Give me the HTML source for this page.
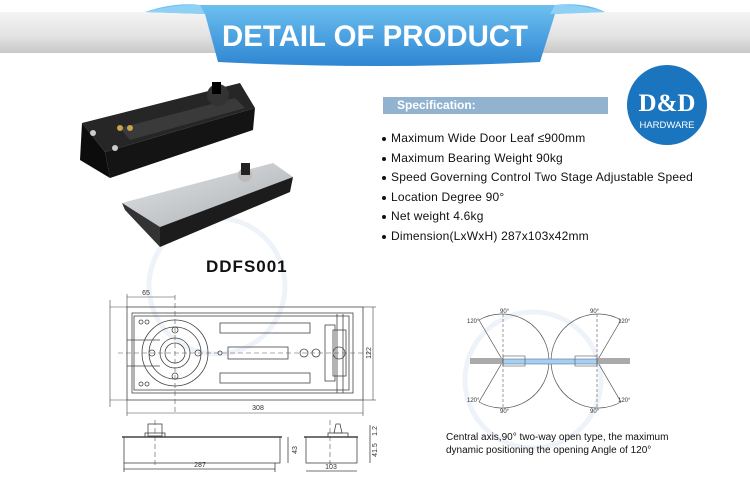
<!DOCTYPE html>
<html><head><meta charset="utf-8"><style>
html,body{margin:0;padding:0;background:#fff;}
body{width:750px;height:500px;position:relative;overflow:hidden;font-family:"Liberation Sans",sans-serif;}
.spec{position:absolute;left:383px;top:97px;width:225px;height:17px;background:#92b3cf;color:#fff;font-weight:bold;font-size:12px;line-height:17px;padding-left:14px;box-sizing:border-box;}
.li{position:absolute;left:382px;font-size:12px;color:#111;letter-spacing:0.2px;}
.li:before{content:"";display:inline-block;width:4px;height:4px;border-radius:50%;background:#111;margin-right:5px;vertical-align:middle;}
</style></head><body>
<svg width="750" height="500" style="position:absolute;left:0;top:0" font-family="Liberation Sans, sans-serif">
<defs>
<linearGradient id="gb" x1="0" y1="0" x2="0" y2="1"><stop offset="0" stop-color="#f4f4f4"/><stop offset="0.6" stop-color="#e2e2e2"/><stop offset="1" stop-color="#c8c8c8"/></linearGradient>
<linearGradient id="bl" x1="0" y1="0" x2="0" y2="1"><stop offset="0" stop-color="#6cc0f0"/><stop offset="1" stop-color="#2f86d2"/></linearGradient>
<linearGradient id="sil" x1="0" y1="0" x2="1" y2="1"><stop offset="0" stop-color="#e4e6e8"/><stop offset="1" stop-color="#a9adb1"/></linearGradient>
</defs>
<rect x="0" y="12" width="750" height="41" fill="url(#gb)"/>
<path d="M145 12 Q175 2 200 5 L555 5 Q585 2 605 12 L555 14 L540 62 Q375 70 218 62 L205 14 Z" fill="url(#bl)"/>
<path d="M145 12 Q175 4 200 5 L205 14 Z M605 12 Q580 4 555 5 L550 14Z" fill="#8fd0f5"/>
<text x="222" y="46" textLength="306" lengthAdjust="spacingAndGlyphs" font-size="30" font-weight="bold" fill="#fff">DETAIL OF PRODUCT</text>
<!-- watermark -->
<circle cx="217" cy="286" r="68" fill="none" stroke="#eef3f9" stroke-width="5"/>
<circle cx="533" cy="380" r="68" fill="none" stroke="#eef3f9" stroke-width="5"/>
<!-- black box -->
<polygon points="82,123 240,83 255,108 105,152" fill="#262626"/>
<polygon points="105,152 255,108 253,130 110,178" fill="#141414"/>
<polygon points="82,123 105,152 110,178 80,160" fill="#0c0c0c"/>
<polygon points="120,128 235,98 245,108 130,140" fill="#3a3a3a"/>
<circle cx="218" cy="95" r="11" fill="#333"/><rect x="212" y="82" width="9" height="12" fill="#000"/>
<circle cx="120" cy="128" r="3" fill="#c9a24a"/><circle cx="130" cy="128" r="3" fill="#c9a24a"/>
<circle cx="93" cy="133" r="3" fill="#ccc"/><circle cx="115" cy="148" r="3" fill="#ccc"/>
<!-- silver -->
<polygon points="122,203 273,163 293,177 160,227" fill="url(#sil)"/>
<polygon points="160,227 293,177 290,192 160,247" fill="#1c1c1c"/>
<polygon points="122,203 160,227 160,247 125,210" fill="#333"/>
<circle cx="245" cy="175" r="7" fill="#bbb"/><rect x="241" y="163" width="9" height="12" fill="#222"/>
<text x="206" y="272" font-size="17" font-weight="bold" fill="#111" letter-spacing="1">DDFS001</text>
<!-- logo -->
<circle cx="667" cy="105" r="40" fill="#1b74be"/>
<text x="667" y="111" text-anchor="middle" font-family="Liberation Serif, serif" font-weight="bold" font-size="25" fill="#fff">D&amp;D</text>
<text x="667" y="128" text-anchor="middle" font-size="9.5" fill="#fff">HARDWARE</text>
<!-- top view drawing -->
<g stroke="#444" fill="none" stroke-width="0.8">
<rect x="127" y="307" width="236" height="93"/>
<rect x="132" y="313" width="221" height="80"/>
<rect x="134" y="316" width="215" height="74"/>
<circle cx="175" cy="353" r="33"/><circle cx="175" cy="353" r="26"/><circle cx="175" cy="353" r="15"/><circle cx="175" cy="353" r="10"/>
<circle cx="175" cy="330" r="3"/><circle cx="175" cy="376" r="3"/><circle cx="152" cy="353" r="3"/><circle cx="198" cy="353" r="3"/>
<rect x="220" y="323" width="90" height="10"/><rect x="220" y="373" width="90" height="10"/>
<rect x="228" y="347" width="60" height="12"/>
<circle cx="304" cy="353" r="4"/><circle cx="316" cy="353" r="4"/><circle cx="220" cy="353" r="2"/>
<rect x="325" y="325" width="10" height="56"/>
<rect x="333" y="330" width="13" height="46"/><circle cx="339" cy="353" r="6"/>
<line x1="337" y1="314" x2="337" y2="393"/><line x1="343" y1="314" x2="343" y2="393"/>
<circle cx="141" cy="322" r="2"/><circle cx="147" cy="322" r="2"/><circle cx="141" cy="384" r="2"/><circle cx="147" cy="384" r="2"/>
<line x1="127" y1="340" x2="160" y2="340"/><line x1="127" y1="366" x2="160" y2="366"/>
</g>
<g stroke="#555" stroke-width="0.6" fill="none" stroke-dasharray="5,3">
<line x1="118" y1="353" x2="370" y2="353"/><line x1="175" y1="295" x2="175" y2="412"/>
<line x1="155" y1="420" x2="155" y2="468"/><line x1="330" y1="420" x2="330" y2="468"/>
</g>
<g stroke="#444" stroke-width="0.6" fill="#444">
<line x1="127" y1="297" x2="175" y2="297"/><line x1="127" y1="294" x2="127" y2="307"/>
<line x1="127" y1="413" x2="363" y2="413"/><line x1="127" y1="400" x2="127" y2="416"/><line x1="363" y1="400" x2="363" y2="416"/>
<line x1="373" y1="307" x2="373" y2="400"/><line x1="363" y1="307" x2="376" y2="307"/><line x1="363" y1="400" x2="376" y2="400"/>
<line x1="110" y1="307" x2="127" y2="307"/><line x1="110" y1="400" x2="127" y2="400"/>
<line x1="110" y1="300" x2="110" y2="407"/>
</g>
<g font-size="7" fill="#333">
<text x="146" y="295" text-anchor="middle">65</text>
<text x="258" y="410" text-anchor="middle">308</text>
<text x="0" y="0" transform="translate(371,353) rotate(-90)" text-anchor="middle">122</text>
</g>
<!-- side views -->
<g stroke="#444" fill="none" stroke-width="0.8">
<line x1="122" y1="437" x2="282" y2="437" stroke-width="1.5"/>
<rect x="124" y="437" width="156" height="26"/>
<rect x="148" y="424" width="14" height="12"/><rect x="145" y="433" width="20" height="4"/>
<line x1="304" y1="437" x2="358" y2="437" stroke-width="1.5"/>
<rect x="306" y="437" width="51" height="26"/>
<polygon points="334,433 336,424 340,424 342,433"/><rect x="328" y="433" width="20" height="4"/>
<line x1="288" y1="437" x2="288" y2="463"/><line x1="124" y1="469" x2="275" y2="469"/>
<line x1="306" y1="471" x2="357" y2="471"/><line x1="370" y1="425" x2="370" y2="463"/>
<line x1="124" y1="463" x2="124" y2="472"/><line x1="275" y1="463" x2="275" y2="472"/>
</g>
<g font-size="7" fill="#333">
<text x="200" y="467" text-anchor="middle">287</text>
<text x="331" y="469" text-anchor="middle">103</text>
<text transform="translate(297,450) rotate(-90)" text-anchor="middle">43</text>
<text transform="translate(377,450) rotate(-90)" text-anchor="middle">41.5</text>
<text transform="translate(377,431) rotate(-90)" text-anchor="middle">1.2</text>
</g>
<!-- door diagram -->
<g stroke="#555" fill="none" stroke-width="0.7">
<path d="M503 361 L479 320 A47 47 0 1 1 479 402 Z"/>
<path d="M597 361 L621 320 A47 47 0 1 0 621 402 Z"/>
</g>
<rect x="470" y="358" width="33" height="6" fill="#aaa"/><rect x="597" y="358" width="33" height="6" fill="#aaa"/>
<rect x="503" y="359" width="94" height="5" fill="#a8d0ee" stroke="#4a7aa8" stroke-width="0.6"/>
<rect x="503" y="356" width="22" height="10" fill="none" stroke="#555" stroke-width="0.6"/>
<rect x="575" y="356" width="22" height="10" fill="none" stroke="#555" stroke-width="0.6"/>
<g stroke="#555" stroke-dasharray="3,2" stroke-width="0.6"><line x1="503" y1="314" x2="503" y2="408"/><line x1="597" y1="314" x2="597" y2="408"/></g>
<g font-size="6" fill="#333">
<text x="500" y="313">90°</text><text x="590" y="313">90°</text>
<text x="500" y="413">90°</text><text x="590" y="413">90°</text>
<text x="467" y="323">120°</text><text x="618" y="323">120°</text>
<text x="467" y="402">120°</text><text x="618" y="402">120°</text>
</g>
<text x="446" y="440" font-size="10" fill="#111">Central axis,90° two-way open type, the maximum</text>
<text x="446" y="453" font-size="10" fill="#111">dynamic positioning the opening Angle of 120°</text>
</svg>
<div class="spec">Specification:</div>
<div class="li" style="top:131px">Maximum Wide Door Leaf ≤900mm</div>
<div class="li" style="top:151px">Maximum Bearing Weight 90kg</div>
<div class="li" style="top:170px">Speed Governing Control Two Stage Adjustable Speed</div>
<div class="li" style="top:190px">Location Degree 90°</div>
<div class="li" style="top:209px">Net weight 4.6kg</div>
<div class="li" style="top:229px">Dimension(LxWxH) 287x103x42mm</div>
</body></html>
